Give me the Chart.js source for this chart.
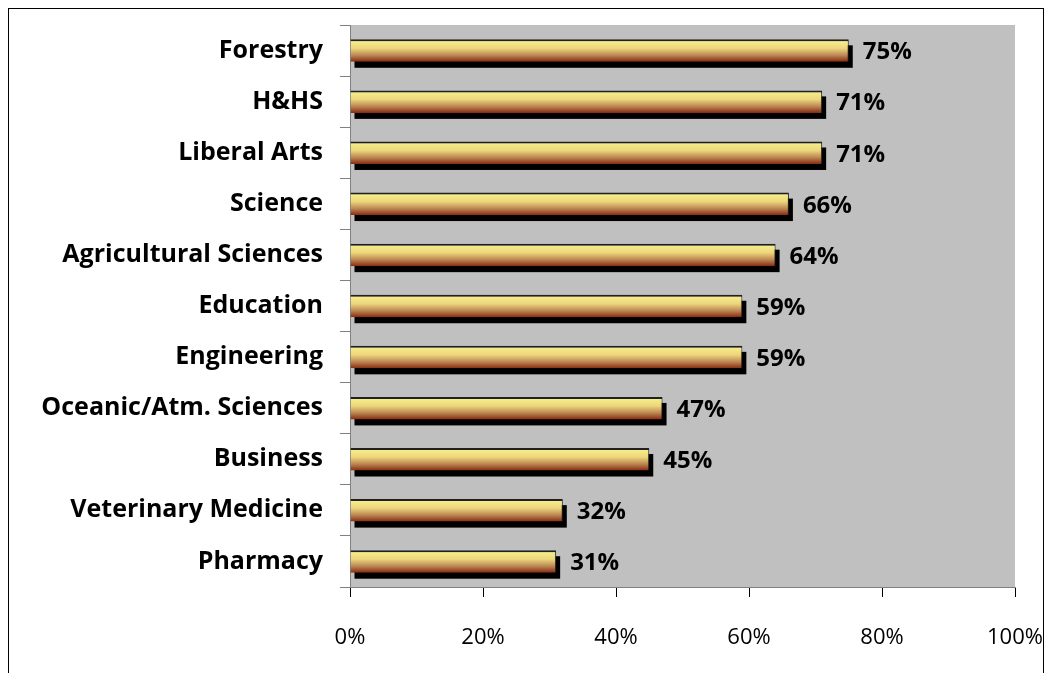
<!DOCTYPE html>
<html>
<head>
<meta charset="utf-8">
<script src="https://cdn.jsdelivr.net/npm/chart.js@4.4.1/dist/chart.umd.min.js"></script>
<style>
  html, body { margin: 0; padding: 0; background: #fff; }
  #wrap { width: 1049px; height: 673px; position: relative; }
</style>
</head>
<body>
<div id="wrap"><canvas id="chart"></canvas></div>
<script>
const colleges = ['Forestry', 'H&HS', 'Liberal Arts', 'Science', 'Agricultural Sciences', 'Education',
  'Engineering', 'Oceanic/Atm. Sciences', 'Business', 'Veterinary Medicine', 'Pharmacy'];
const percents = [75, 71, 71, 66, 64, 59, 59, 47, 45, 32, 31];
const xTicks = [0, 20, 40, 60, 80, 100];

const FONT = '"Open Sans", Lato, sans-serif';

// grey plot area + outer frame
const backdrop = {
  id: 'backdrop',
  beforeDraw(chart) {
    const { ctx, chartArea: a } = chart;
    ctx.save();
    ctx.fillStyle = '#c0c0c0';
    ctx.fillRect(a.left, a.top, a.right - a.left, a.bottom - a.top);
    ctx.strokeStyle = '#000';
    ctx.lineWidth = 1;
    ctx.strokeRect(8.5, 8.5, 1035, 700);
    ctx.restore();
  }
};

// drop shadow + vertical gradient per bar
const barStyle = {
  id: 'barStyle',
  beforeDatasetsDraw(chart) {
    const ctx = chart.ctx;
    const meta = chart.getDatasetMeta(0);
    ctx.save();
    meta.data.forEach(el => {
      const { x, y, base, height } = el.getProps(['x', 'y', 'base', 'height'], true);
      const top = y - height / 2;
      ctx.fillStyle = '#000';
      ctx.fillRect(base + 4, top + 6, x - base, height);
      const g = ctx.createLinearGradient(0, top, 0, top + height);
      g.addColorStop(0, '#faf38c');
      g.addColorStop(0.4, '#ecd67c');
      g.addColorStop(0.72, '#bb8452');
      g.addColorStop(1, '#872c10');
      // options are shared between bars, so give each bar its own copy
      el.options = Object.assign({}, el.options, { backgroundColor: g });
    });
    ctx.restore();
  },
  afterDatasetsDraw(chart) {
    const ctx = chart.ctx;
    const meta = chart.getDatasetMeta(0);
    ctx.save();
    ctx.font = 'bold 24px ' + FONT;
    ctx.fillStyle = '#000';
    ctx.textAlign = 'left';
    ctx.textBaseline = 'middle';
    meta.data.forEach((el, i) => {
      ctx.fillText(percents[i] + '%', el.x + 14, el.y + 2);
    });
    ctx.restore();
  }
};

new Chart(document.getElementById('chart'), {
  type: 'bar',
  data: {
    labels: colleges,
    datasets: [{
      data: percents,
      borderColor: '#202020',
      borderWidth: { top: 2, right: 1, bottom: 0, left: 0 },
      borderSkipped: false,
      categoryPercentage: 1,
      barPercentage: 0.44
    }]
  },
  options: {
    indexAxis: 'y',
    responsive: true,
    maintainAspectRatio: false,
    animation: false,
    layout: { padding: { top: 25, right: 34, left: 0, bottom: 0 } },
    plugins: {
      legend: { display: false },
      tooltip: { enabled: false }
    },
    scales: {
      x: {
        min: 0,
        max: 100,
        afterBuildTicks(scale) { scale.ticks = xTicks.map(v => ({ value: v })); },
        afterFit(scale) {
          scale.height = 86;
          scale.paddingLeft = 0;
          scale.paddingRight = 0;
        },
        grid: { drawOnChartArea: false, tickLength: 10, color: '#000' },
        border: { color: '#808080' },
        ticks: {
          callback: v => v + '%',
          color: '#000',
          padding: 28,
          maxRotation: 0,
          font: { family: FONT, size: 22 }
        }
      },
      y: {
        afterFit(scale) {
          scale.width = 350;
          scale.paddingTop = 0;
          scale.paddingBottom = 0;
        },
        grid: { offset: true, drawOnChartArea: false, tickLength: 10, color: '#808080' },
        border: { color: '#808080' },
        ticks: {
          color: '#000',
          padding: 17,
          font: { family: FONT, size: 25, weight: 'bold' }
        }
      }
    }
  },
  plugins: [backdrop, barStyle]
});
</script>
</body>
</html>
